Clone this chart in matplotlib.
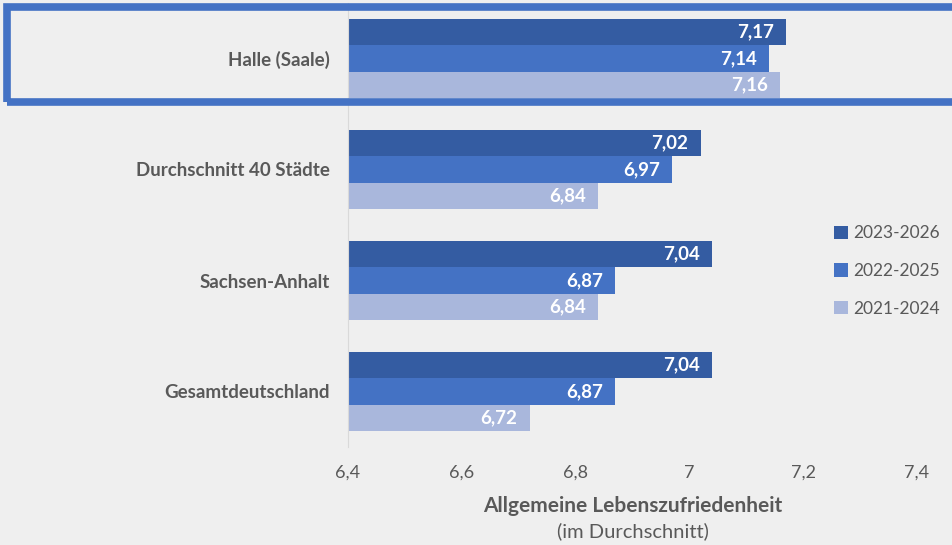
import numpy as np
import matplotlib.pyplot as plt
from matplotlib.patches import Rectangle

plt.rcParams['font.family'] = ['Lato', 'DejaVu Sans']

# Daten
regionen = ['Halle (Saale)', 'Durchschnitt 40 Städte', 'Sachsen-Anhalt', 'Gesamtdeutschland']
zeitraeume = ['2023-2026', '2022-2025', '2021-2024']
werte_2023_2026 = [7.17, 7.02, 7.04, 7.04]
werte_2022_2025 = [7.14, 6.97, 6.87, 6.87]
werte_2021_2024 = [7.16, 6.84, 6.84, 6.72]
farben = ['#345CA2', '#4472C4', '#A9B7DC']

bg = '#EFEFEF'
fig = plt.figure(figsize=(9.53, 5.45), dpi=100, facecolor=bg)
ax = fig.add_axes([348 / 953, 1 - 447 / 545, (917 - 348) / 953, (447 - 3) / 545])
ax.set_facecolor(bg)

y = np.arange(len(regionen))
h = 0.24
reihen = [werte_2023_2026, werte_2022_2025, werte_2021_2024]
for i, (werte, farbe, name) in enumerate(zip(reihen, farben, zeitraeume)):
    pos = y + (i - 1) * h
    bars = ax.barh(pos, np.array(werte) - 6.4, left=6.4, height=h, color=farbe, label=name)
    for b, v in zip(bars, werte):
        ax.annotate(f'{v:.2f}'.replace('.', ','), xy=(v, b.get_y() + h / 2),
                    xytext=(-9, 0), textcoords='offset points', ha='right', va='center',
                    color='white', fontsize=13.5, fontweight='bold')

ax.set_xlim(6.4, 7.4)
ax.set_ylim(len(regionen) - 0.5, -0.5)
ax.set_xticks([6.4, 6.6, 6.8, 7.0, 7.2, 7.4])
ax.set_xticklabels(['6,4', '6,6', '6,8', '7', '7,2', '7,4'], fontsize=13, color='#595959')
ax.tick_params(axis='both', length=0)
ax.tick_params(axis='x', pad=13)
ax.set_yticks(y)
ax.set_yticklabels(regionen, fontsize=13.5, fontweight='bold', color='#595959')
ax.tick_params(axis='y', pad=13)
for s in ['top', 'right', 'bottom']:
    ax.spines[s].set_visible(False)
ax.spines['left'].set_color('#D9D9D9')

fig.text(633 / 953, 1 - 506 / 545, 'Allgemeine Lebenszufriedenheit', ha='center', va='center',
         fontsize=15, fontweight='bold', color='#595959')
fig.text(633 / 953, 1 - 531 / 545, '(im Durchschnitt)', ha='center', va='center',
         fontsize=14.5, color='#595959')

leg = fig.legend(loc='center left', bbox_to_anchor=(818 / 953, 1 - 271 / 545), frameon=False,
                 fontsize=12.5, handlelength=0.8, handleheight=0.8, handletextpad=0.3,
                 labelspacing=1.25, labelcolor='#595959')

# Hervorhebung Halle
fig.patches.append(Rectangle((7 / 953, 1 - 102 / 545), 960 / 953, 95 / 545, transform=fig.transFigure,
                             fill=False, edgecolor='#4472C4', linewidth=5.5))

fig.savefig('out.png', dpi=100, facecolor=bg)
